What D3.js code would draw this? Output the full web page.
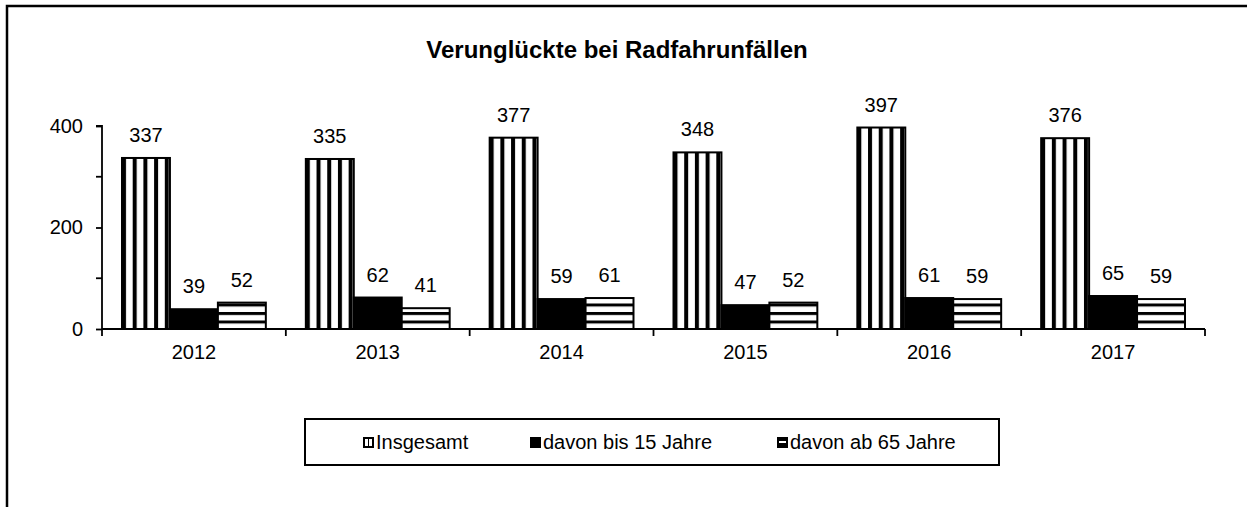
<!DOCTYPE html>
<html lang="de">
<head>
    <meta charset="UTF-8">
    <title>Verunglückte bei Radfahrunfällen</title>
    <style>
        html, body {
            margin: 0;
            padding: 0;
            background-color: #fff;
            font-family: 'Liberation Sans', Arial, sans-serif;
        }
        svg text { fill: #000; }
    </style>
</head>
<body>
    <div id="chart"></div>
    <script src="https://d3js.org/d3.v7.min.js"></script>
    <script>
        // DATA
        const years = ["2012", "2013", "2014", "2015", "2016", "2017"];
        const seriesNames = ["Insgesamt", "davon bis 15 Jahre", "davon ab 65 Jahre"];
        const insgesamt = [337, 335, 377, 348, 397, 376];
        const bis15 = [39, 62, 59, 47, 61, 65];
        const ab65 = [52, 41, 61, 52, 59, 59];
        const yTicks = [0, 200, 400];
        const yMinorTicks = [100, 300];

        const W = 1247, H = 507;
        const plot = {left: 102, right: 1205, top: 126, bottom: 329};
        const font = "'Liberation Sans', Arial, sans-serif";

        const svg = d3.select("#chart")
            .append("svg")
            .attr("width", W)
            .attr("height", H);

        // SCALES
        const x = d3.scaleBand().domain(years).range([plot.left, plot.right]);
        const xSub = d3.scaleBand().domain(seriesNames).range([20, x.bandwidth() - 20]);
        const y = d3.scaleLinear().domain([0, 400]).range([plot.bottom, plot.top]);

        // PATTERNS
        const defs = svg.append("defs");
        const vp = defs.append("pattern").attr("id", "vstripe")
            .attr("patternUnits", "userSpaceOnUse")
            .attr("x", xSub(seriesNames[0])).attr("width", 10.7).attr("height", 10);
        vp.append("rect").attr("width", 10.7).attr("height", 10).attr("fill", "#fff");
        vp.append("rect").attr("width", 4).attr("height", 10).attr("fill", "#000");
        const hp = defs.append("pattern").attr("id", "hstripe")
            .attr("patternUnits", "userSpaceOnUse")
            .attr("y", plot.bottom).attr("width", 10).attr("height", 8.5);
        hp.append("rect").attr("width", 10).attr("height", 8.5).attr("fill", "#fff");
        hp.append("rect").attr("width", 10).attr("height", 3).attr("fill", "#000");

        const lvp = defs.append("pattern").attr("id", "lvstripe")
            .attr("patternUnits", "objectBoundingBox").attr("width", 1).attr("height", 1);
        lvp.append("rect").attr("width", 11).attr("height", 11).attr("fill", "#000");
        lvp.append("rect").attr("x", 2).attr("y", 2).attr("width", 3).attr("height", 7).attr("fill", "#fff");
        lvp.append("rect").attr("x", 6).attr("y", 2).attr("width", 3).attr("height", 7).attr("fill", "#fff");
        const lhp = defs.append("pattern").attr("id", "lhstripe")
            .attr("patternUnits", "objectBoundingBox").attr("width", 1).attr("height", 1);
        lhp.append("rect").attr("width", 11).attr("height", 11).attr("fill", "#000");
        lhp.append("rect").attr("x", 2).attr("y", 4).attr("width", 7).attr("height", 2).attr("fill", "#fff");

        const fills = ["url(#vstripe)", "#000", "url(#hstripe)"];
        const legendFills = ["url(#lvstripe)", "#000", "url(#lhstripe)"];

        // OUTER FRAME
        svg.append("path")
            .attr("d", `M7,${H} V6 H${W}`)
            .attr("fill", "none")
            .attr("stroke", "#000")
            .attr("stroke-width", 2.5);

        // TITLE
        svg.append("text")
            .attr("x", 617)
            .attr("y", 58)
            .attr("text-anchor", "middle")
            .attr("font-size", 24)
            .attr("font-weight", "bold")
            .text("Verunglückte bei Radfahrunfällen");

        // Y AXIS
        const yAxis = svg.append("g")
            .attr("transform", `translate(${plot.left},0)`)
            .call(d3.axisLeft(y).tickValues(yTicks).tickSize(6).tickPadding(13).tickFormat(d3.format("d")));
        yAxis.select(".domain").attr("stroke-width", 1.8).attr("d", `M-6,${plot.top}H0V${plot.bottom}`);
        yAxis.selectAll("text").attr("font-size", 20).attr("font-family", font);
        yAxis.selectAll("line").attr("stroke-width", 1.8);
        svg.append("g")
            .selectAll("line")
            .data(yMinorTicks)
            .join("line")
            .attr("x1", plot.left - 6).attr("x2", plot.left)
            .attr("y1", d => y(d)).attr("y2", d => y(d))
            .attr("stroke", "#000").attr("stroke-width", 1.8);

        // BARS
        const seriesData = [insgesamt, bis15, ab65];
        const groups = svg.append("g")
            .selectAll("g")
            .data(years)
            .join("g")
            .attr("transform", d => `translate(${x(d)},0)`);

        seriesNames.forEach((name, s) => {
            groups.append("rect")
                .attr("x", xSub(name))
                .attr("y", (d, i) => y(seriesData[s][i]))
                .attr("width", xSub.bandwidth())
                .attr("height", (d, i) => y(0) - y(seriesData[s][i]))
                .attr("fill", fills[s])
                .attr("stroke", "#000")
                .attr("stroke-width", 2);
            groups.append("text")
                .attr("x", xSub(name) + xSub.bandwidth() / 2)
                .attr("y", (d, i) => y(seriesData[s][i]) - 16)
                .attr("text-anchor", "middle")
                .attr("font-size", 20)
                .attr("font-family", font)
                .text((d, i) => seriesData[s][i]);
        });

        // X AXIS
        const xAxis = svg.append("g")
            .attr("transform", `translate(0,${plot.bottom})`)
            .call(d3.axisBottom(x).tickSize(0).tickPadding(16));
        xAxis.select(".domain").attr("stroke-width", 1.8).attr("d", `M${plot.left},0H${plot.right}`);
        xAxis.selectAll("text").attr("font-size", 20).attr("font-family", font);
        svg.append("g")
            .selectAll("line")
            .data(years.map(d => x(d)).concat([plot.right]))
            .join("line")
            .attr("x1", d => d).attr("x2", d => d)
            .attr("y1", plot.bottom).attr("y2", plot.bottom + 7)
            .attr("stroke", "#000").attr("stroke-width", 1.8);

        // LEGEND
        const legend = svg.append("g");
        legend.append("rect")
            .attr("x", 305).attr("y", 419)
            .attr("width", 694).attr("height", 46)
            .attr("fill", "#fff")
            .attr("stroke", "#000")
            .attr("stroke-width", 2);
        const legendX = [363, 530, 777];
        seriesNames.forEach((name, s) => {
            legend.append("rect")
                .attr("x", legendX[s]).attr("y", 437)
                .attr("width", 11).attr("height", 11)
                .attr("fill", legendFills[s]);
            legend.append("text")
                .attr("x", legendX[s] + 13)
                .attr("y", 449)
                .attr("font-size", 20)
                .attr("font-family", font)
                .text(name);
        });
    </script>
</body>
</html>
